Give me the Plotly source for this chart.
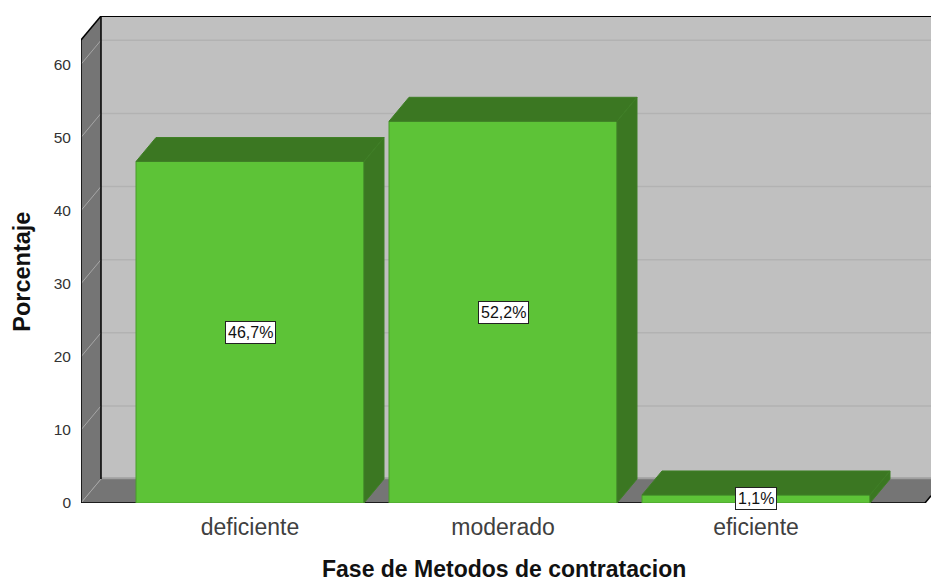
import plotly.graph_objects as go

categories = ["deficiente", "moderado", "eficiente"]
percentages = [46.7, 52.2, 1.1]
y_ticks = [0, 10, 20, 30, 40, 50, 60]
x_title = "Fase de Metodos de contratacion"
y_title = "Porcentaje"

W, H = 931, 584
L, R, T, B = 81, 931, 16, 503.5   # plotting box in window pixels
PX_PER_CAT = 253.0
CAT0_PX = 250.0
PX_PER_UNIT = 7.32
DX = 20 / PX_PER_CAT     # oblique depth in x units
DY = 24 / PX_PER_UNIT    # oblique depth in y units
BAR_W = 228 / PX_PER_CAT

x0 = (L - CAT0_PX) / PX_PER_CAT
x1 = (R - CAT0_PX) / PX_PER_CAT
y1 = (B - T) / PX_PER_UNIT
xs = list(range(len(categories)))

FRONT = "#5DC337"
DARK = "#3B7722"
EDGE = "#4A9A2C"
WALL = "#757575"
BACK = "#C0C0C0"
GRID = "#B2B2B2"
SIDEGRID = "#A6A6A6"

fig = go.Figure()
shapes = []


def poly(pts, fill, line=None, width=0):
    path = "M " + " L ".join(f"{x},{y}" for x, y in pts) + " Z"
    shapes.append(dict(type="path", path=path, fillcolor=fill, layer="below",
                       line=dict(color=line or fill, width=width), xref="x", yref="y"))


def seg(xa, ya, xb, yb, color, width):
    shapes.append(dict(type="line", x0=xa, y0=ya, x1=xb, y1=yb, layer="below",
                       line=dict(color=color, width=width), xref="x", yref="y"))


xr = x0 + 844 / PX_PER_CAT   # end of the front edge of the floor
y_right = (x1 - xr) / DX * DY
poly([(x0 + DX, DY), (x1, DY), (x1, y1), (x0 + DX, y1)], BACK)
poly([(x0, 0), (x0 + DX, DY), (x0 + DX, y1), (x0, y1 - DY)], WALL)
poly([(x0, 0), (xr, 0), (x1, y_right), (x1, DY), (x0 + DX, DY)], WALL)
seg(x0 + DX, DY + 0.1, x1, DY + 0.1, "#A0A0A0", 2)
for t in y_ticks:
    if t > 0:
        seg(x0 + DX, t + DY, x1, t + DY, GRID, 1.5)
    seg(x0, t, x0 + DX, t + DY, SIDEGRID, 1)
seg(x0, 0, x0, y1 - DY, "black", 1.5)
seg(x0, y1 - DY, x0 + DX, y1, "black", 1.5)
seg(x0 + DX, y1 - 0.05, x1, y1 - 0.05, "black", 1.5)
seg(x0 + DX, DY, x0 + DX, y1, "black", 1.5)
seg(x0, 0, xr, 0, "black", 1.5)
seg(xr, 0, x1, y_right, "black", 1.5)

for x, v in zip(xs, percentages):
    a, b = x - BAR_W / 2, x + BAR_W / 2
    fig.add_trace(go.Scatter(x=[a, b, b + DX, a + DX, a], y=[v, v, v + DY, v + DY, v],
                             mode="lines", fill="toself", fillcolor=DARK,
                             line=dict(color="#3F7F26", width=1),
                             hoverinfo="skip", showlegend=False))
    fig.add_trace(go.Scatter(x=[b, b + DX, b + DX, b, b], y=[0, DY, v + DY, v, 0],
                             mode="lines", fill="toself", fillcolor=DARK,
                             line=dict(color="#3F7F26", width=1),
                             hoverinfo="skip", showlegend=False))

fig.add_trace(go.Bar(x=xs, y=percentages, width=BAR_W, showlegend=False,
                     marker=dict(color=FRONT, line=dict(color=EDGE, width=1))))

annotations = [
    dict(x=x, y=v / 2, xref="x", yref="y", showarrow=False,
         text=f"{v:.1f}%".replace(".", ","),
         font=dict(family="Liberation Sans", size=16, color="#111111"),
         bgcolor="white", bordercolor="#222222", borderwidth=1, borderpad=2)
    for x, v in zip(xs, percentages)
]
annotations.append(dict(x=(503.5 - L) / (R - L), y=1 - (569.5 - T) / (B - T),
                        xref="paper", yref="paper", showarrow=False, text=f"<b>{x_title}</b>",
                        xanchor="center", yanchor="middle", borderpad=0,
                        font=dict(family="Liberation Sans", size=23, color="#111111")))
annotations.append(dict(x=(22 - L) / (R - L), y=1 - (272 - T) / (B - T),
                        xref="paper", yref="paper", showarrow=False, textangle=-90,
                        xanchor="center", yanchor="middle",
                        text=f"<b>{y_title}</b>",
                        font=dict(family="Liberation Sans", size=23.5, color="#111111")))

fig.update_layout(
    width=W, height=H, autosize=False,
    margin=dict(l=L, r=W - R, t=T, b=H - B, pad=0),
    paper_bgcolor="white", plot_bgcolor="white",
    shapes=shapes, annotations=annotations,
    xaxis=dict(range=[x0, x1], tickmode="array", tickvals=xs, ticktext=categories,
               showgrid=False, zeroline=False, showline=False, ticks="", ticklabelstandoff=8,
               tickfont=dict(family="Liberation Sans", size=23, color="#404040")),
    yaxis=dict(range=[0, y1], tickmode="array", tickvals=y_ticks, showgrid=False,
               zeroline=False, showline=False, ticks="", ticklabelstandoff=9,
               tickfont=dict(family="Liberation Sans", size=15.5, color="#333333")),
)

fig.write_html("out.html", config={"displayModeBar": False},
               post_script="document.body.style.margin='0';document.body.style.overflow='hidden';")
